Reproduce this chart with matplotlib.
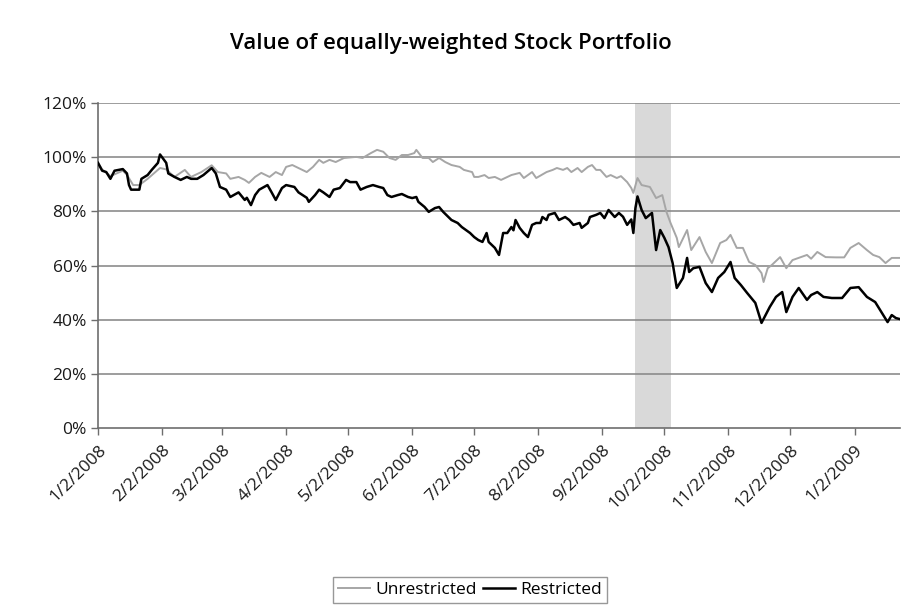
import numpy as np
import pandas as pd
import matplotlib
matplotlib.use("Agg")
import matplotlib.pyplot as plt
import matplotlib.dates as mdates

plt.rcParams['font.family'] = ['Open Sans', 'DejaVu Sans']

start_date = "2008-01-02"

# Days since 2008-01-02 and portfolio value (%)
restricted_days = [0, 2, 4, 6, 8, 12, 14, 15, 16, 20, 21, 24, 26, 29, 30, 33, 34, 37, 40, 43, 45, 48,
                   51, 55, 57, 59, 62, 64, 68, 71, 72, 74, 76, 78, 82, 84, 86, 89, 91, 95, 97, 101,
                   102, 105, 107, 109, 112, 114, 117, 120, 122, 125, 127, 130, 133, 136, 138, 140,
                   142, 145, 147, 150, 152, 154, 155, 158, 160, 163, 165, 167, 171, 174, 176, 180,
                   182, 184, 186, 188, 189, 192, 194, 196, 198, 200, 201, 202, 204, 206, 208, 210,
                   212, 214, 215, 217, 218, 221, 223, 226, 228, 230, 233, 234, 237, 238, 241, 243,
                   245, 247, 250, 252, 254, 256, 258, 259, 260, 261, 263, 265, 268, 270, 272, 274,
                   276, 278, 280, 283, 285, 286, 288, 291, 294, 297, 300, 303, 306, 308, 311, 314,
                   318, 321, 325, 328, 331, 333, 336, 339, 343, 345, 348, 351, 355, 360, 364, 368,
                   372, 376, 379, 382, 384, 386, 388]
restricted_vals = [97.9, 95.0, 94.5, 92.0, 95.0, 95.6, 94.0, 89.7, 88.0, 88.0, 92.0, 93.4, 95.3, 97.9,
                   101.0, 97.9, 94.0, 92.7, 91.6, 92.7, 92.0, 92.0, 93.4, 96.0, 94.0, 89.0, 88.0,
                   85.3, 87.0, 84.2, 85.0, 82.3, 86.0, 88.0, 89.7, 87.0, 84.2, 88.6, 89.7, 89.0,
                   87.0, 85.0, 83.5, 86.0, 88.0, 87.0, 85.3, 88.0, 88.6, 91.6, 90.8, 90.8, 88.0,
                   89.0, 89.7, 89.0, 88.6, 86.0, 85.3, 86.0, 86.4, 85.3, 84.9, 85.3, 83.5, 81.6,
                   79.8, 81.2, 81.6, 79.8, 76.8, 75.7, 74.2, 72.0, 70.5, 69.4, 68.7, 72.0, 68.7,
                   66.5, 63.9, 72.0, 72.0, 74.2, 73.0, 76.8, 73.9, 72.0, 70.5, 75.0, 75.7, 75.7,
                   77.9, 76.8, 78.7, 79.4, 76.8, 77.9, 76.8, 75.0, 75.7, 73.9, 75.7, 77.9, 78.7,
                   79.4, 77.5, 80.5, 77.9, 79.4, 78.0, 75.0, 77.0, 72.0, 81.2, 85.5, 80.5, 77.5,
                   79.4, 65.7, 73.1, 70.2, 66.8, 60.9, 51.7, 55.4, 62.8, 57.6, 59.0, 59.5, 53.5,
                   50.2, 55.4, 57.6, 61.3, 55.4, 52.8, 49.9, 46.2, 38.8, 44.7, 48.4, 50.2, 42.8,
                   48.4, 51.7, 47.3, 49.1, 50.2, 48.4, 48.0, 48.0, 51.7, 52.0, 48.4, 46.5, 42.8,
                   39.1, 41.7, 40.6, 40.2]

unrestricted_days = [0, 2, 6, 12, 14, 17, 20, 24, 27, 30, 33, 37, 42, 45, 50, 55, 58, 62, 64, 68, 71,
                     73, 76, 79, 83, 86, 89, 91, 94, 97, 101, 104, 107, 109, 112, 115, 119, 125, 128,
                     132, 135, 138, 141, 144, 147, 150, 153, 154, 157, 160, 162, 165, 168, 171, 175,
                     177, 181, 182, 184, 187, 189, 192, 195, 200, 204, 206, 210, 212, 217, 220, 222,
                     225, 227, 229, 232, 234, 237, 239, 241, 243, 246, 248, 251, 253, 256, 258, 259,
                     261, 263, 267, 270, 273, 275, 277, 280, 281, 285, 287, 291, 294, 297, 301, 304,
                     306, 309, 312, 315, 318, 321, 322, 324, 326, 330, 333, 336, 339, 343, 345, 348,
                     352, 357, 361, 364, 368, 372, 375, 378, 381, 384, 388]
unrestricted_vals = [97.9, 95.5, 93.0, 95.0, 93.5, 89.7, 89.7, 92.0, 94.0, 96.0, 95.5, 92.7, 95.3,
                     92.7, 94.5, 97.0, 94.5, 94.0, 92.0, 92.7, 91.6, 90.5, 92.7, 94.2, 92.7, 94.5,
                     93.4, 96.4, 97.1, 96.0, 94.5, 96.4, 99.0, 97.9, 99.0, 98.2, 99.7, 100.1, 99.7,
                     101.5, 102.7, 102.0, 99.7, 99.0, 100.8, 100.8, 101.5, 102.7, 99.7, 99.7, 98.2,
                     99.7, 98.2, 97.1, 96.4, 95.3, 94.5, 92.7, 92.7, 93.4, 92.3, 92.7, 91.6, 93.4,
                     94.2, 92.3, 94.5, 92.3, 94.5, 95.3, 96.0, 95.3, 96.0, 94.5, 96.0, 94.5, 96.4,
                     97.1, 95.3, 95.3, 92.7, 93.4, 92.3, 93.0, 90.8, 88.6, 86.8, 92.3, 89.7, 89.0,
                     84.9, 86.0, 79.8, 75.7, 70.2, 66.8, 73.1, 65.7, 70.5, 65.0, 60.9, 68.3, 69.4,
                     71.3, 66.5, 66.5, 61.3, 60.2, 57.2, 53.9, 59.0, 60.2, 63.1, 59.0, 62.0, 62.8,
                     63.9, 62.5, 65.0, 63.1, 63.0, 63.0, 66.5, 68.3, 65.7, 63.9, 63.1, 60.9, 62.8,
                     62.8]

tick_labels = ["1/2/2008", "2/2/2008", "3/2/2008", "4/2/2008", "5/2/2008", "6/2/2008",
               "7/2/2008", "8/2/2008", "9/2/2008", "10/2/2008", "11/2/2008", "12/2/2008",
               "1/2/2009"]
y_ticks = [0, 20, 40, 60, 80, 100, 120]
ban_start = "2008-09-18"
ban_end = "2008-10-05"
x_end_day = 388

base = pd.Timestamp(start_date)
r_dates = base + pd.to_timedelta(restricted_days, unit="D")
u_dates = base + pd.to_timedelta(unrestricted_days, unit="D")
tick_dates = pd.to_datetime(tick_labels, format="%m/%d/%Y")

fig = plt.figure(figsize=(9.01, 6.16), dpi=100)
ax = fig.add_axes([98 / 901, 1 - 428 / 616, 802 / 901, 325 / 616])

ax.axvspan(pd.Timestamp(ban_start), pd.Timestamp(ban_end), color="#d9d9d9", zorder=0, lw=0)
for yv in y_ticks[1:]:
    ax.axhline(yv, color="#8c8c8c", lw=1.2, zorder=1)

ax.plot(u_dates, unrestricted_vals, color="#a6a6a6", lw=1.4, label="Unrestricted", zorder=3)
ax.plot(r_dates, restricted_vals, color="black", lw=1.8, label="Restricted", zorder=4)

ax.set_xlim(base, base + pd.Timedelta(days=x_end_day))
ax.set_ylim(0, 120)
ax.set_yticks(y_ticks)
ax.set_yticklabels([f"{v}%" for v in y_ticks])
ax.set_xticks(tick_dates)
ax.set_xticklabels(tick_labels, rotation=45, ha="right", va="top", rotation_mode="anchor")

for s in ["top", "right"]:
    ax.spines[s].set_visible(False)
ax.spines["left"].set_color("#6e6e6e")
ax.spines["bottom"].set_color("#6e6e6e")
ax.spines["left"].set_linewidth(1.2)
ax.spines["bottom"].set_linewidth(1.2)
ax.tick_params(axis="both", colors="#6e6e6e", labelcolor="#1a1a1a", labelsize=12.5, length=5, width=1)
ax.tick_params(axis="x", pad=5)
ax.tick_params(axis="y", pad=3)

fig.text(0.5, 1 - 43 / 616, "Value of equally-weighted Stock Portfolio", ha="center", va="center",
         fontsize=16, fontweight="semibold")

leg = fig.legend(loc="center", bbox_to_anchor=(470 / 901, 1 - 590 / 616), ncol=2, fontsize=12.5,
                 frameon=True, fancybox=False, handlelength=1.8, handletextpad=0.3,
                 columnspacing=0.4, borderpad=0.3)
leg.get_frame().set_edgecolor("#7f7f7f")
leg.get_frame().set_linewidth(1.0)

fig.savefig("out.png", dpi=100)
